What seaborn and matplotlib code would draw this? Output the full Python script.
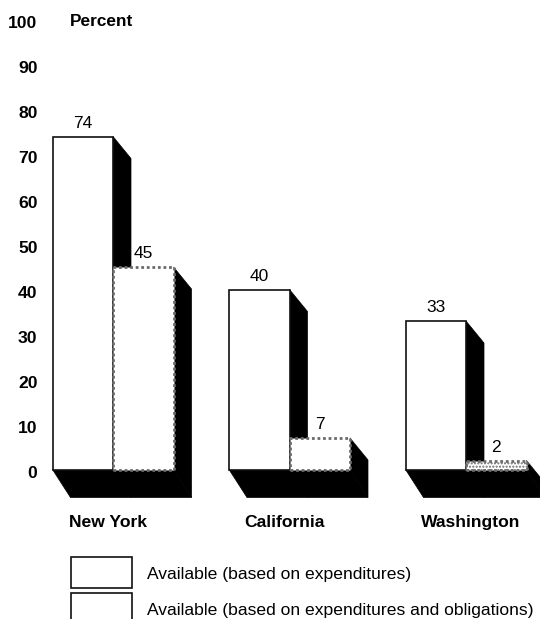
import pandas as pd
import matplotlib
matplotlib.use('Agg')
import matplotlib.pyplot as plt
import seaborn as sns
from matplotlib.patches import Polygon, Rectangle
from matplotlib.transforms import ScaledTranslation

# data
states = ['New York', 'California', 'Washington']
expenditures = [74, 40, 33]
exp_and_oblig = [45, 7, 2]
series_names = ['Available (based on expenditures)',
                'Available (based on expenditures and obligations)']
y_ticks = list(range(0, 101, 10))

sns.set_theme(style='white')
plt.rcParams['font.family'] = ['Liberation Sans', 'DejaVu Sans']
plt.rcParams['text.color'] = 'black'

df = pd.DataFrame({
    'state': states * 2,
    'series': [series_names[0]] * 3 + [series_names[1]] * 3,
    'percent': expenditures + exp_and_oblig,
})

W, H = 540, 619
fig = plt.figure(figsize=(W / 100, H / 100), dpi=100)
ax = fig.add_axes([0, 0, 1, 1])
ax.patch.set_alpha(0)

# pixels of the scan -> data units
PX_X0, PX_STEP = 113.0, 176.5
PX_Y0, PX_UNIT = 469.5, 4.5
def dx(px):
    return (px - PX_X0) / PX_STEP
def dy(py):
    return (PX_Y0 - py) / PX_UNIT

sns.barplot(data=df, x='state', y='percent', hue='series', order=states,
            hue_order=series_names, palette=['white', 'white'],
            width=121 / PX_STEP, gap=0, legend=False, edgecolor='#111111',
            linewidth=1.2, zorder=3, ax=ax)
ax.set_xlim(dx(0), dx(W))
ax.set_ylim(dy(H), dy(0))
sns.despine(ax=ax, left=True, bottom=True)
ax.set_xlabel('')
ax.set_ylabel('')

# 3d side and floor, in black behind the bars
depth_x = 18 / PX_STEP
side_drop = 22 / PX_UNIT
floor_drop = 28 / PX_UNIT
for cont in ax.containers:
    for bar in cont:
        r = bar.get_x() + bar.get_width()
        top = bar.get_height()
        ax.add_patch(Polygon([(r, top), (r + depth_x, top - side_drop),
                              (r + depth_x, -floor_drop), (r, 0)],
                             fc='black', ec='black', lw=0.5, zorder=1))
for a, b in zip(ax.containers[0], ax.containers[1]):
    left = a.get_x()
    right = b.get_x() + b.get_width()
    ax.add_patch(Polygon([(left, 0), (left + depth_x, -floor_drop),
                          (right + depth_x, -floor_drop), (right, 0)],
                         fc='black', ec='black', lw=0.5, zorder=1))

# second series is white with a speckled grey rim in the scan
for bar in ax.containers[1]:
    bar.set_edgecolor('#6a6a6a')
    bar.set_linestyle((0, (1, 1)))
    bar.set_linewidth(2.0)
# the thin Washington bar is nearly all speckle
ax.containers[1][2].set_hatch('.....')

for cont in ax.containers:
    ax.bar_label(cont, padding=4, fontsize=12.5, color='black')

# tick labels sit inside the full-figure axes
ax.set_yticks(y_ticks)
ax.set_yticklabels(y_ticks, fontweight='bold', fontsize=12.6, color='black')
ax.tick_params(axis='y', length=0, pad=-27)
shift = ScaledTranslation(0, -1.5 / 72, fig.dpi_scale_trans)
for lab in ax.get_yticklabels():
    lab.set_transform(lab.get_transform() + shift)
ax.set_xticks([dx(108), dx(284.5), dx(471)])
ax.set_xticklabels(states, fontweight='bold', fontsize=12.6, color='black')
ax.tick_params(axis='x', length=0, pad=(H - 515) * -0.72)

ax.text(dx(70), dy(22), 'Percent', fontweight='bold', fontsize=12.4, va='center', ha='left')

# legend keys, the second one is cut by the page edge
for py_top, py_bot, py_text, fc, name in [
        (557, 588, 575, 'white', series_names[0]),
        (593, 625, 610, 'white', series_names[1])]:
    ax.add_patch(Rectangle((dx(71), dy(py_bot)), dx(132) - dx(71), dy(py_top) - dy(py_bot),
                           fc=fc, ec='#111111', lw=1.2, zorder=3))
    ax.text(dx(147), dy(py_text), name, fontsize=12.6, va='center', ha='left')

fig.savefig('out.png', dpi=100)
